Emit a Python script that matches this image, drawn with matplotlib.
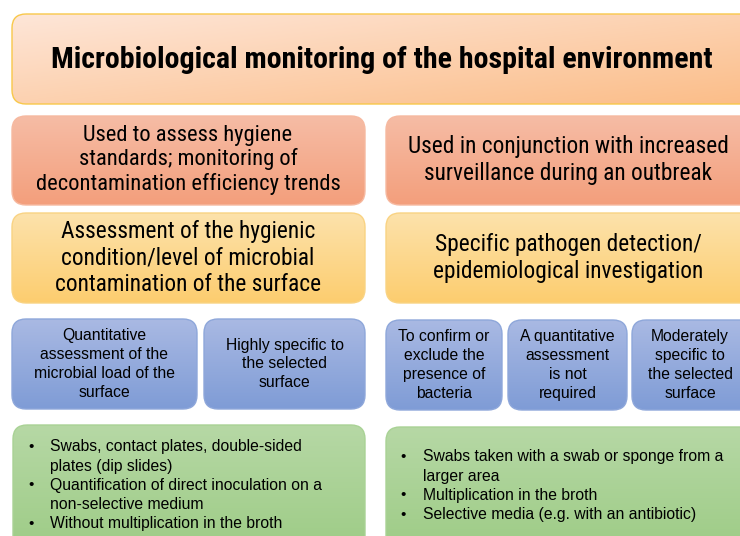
import numpy as np
import matplotlib.pyplot as plt
from matplotlib.patches import FancyBboxPatch
from matplotlib.colors import LinearSegmentedColormap

# texts of the diagram
title = "Microbiological monitoring of the hospital environment"
purpose = ["Used to assess hygiene\nstandards; monitoring of\ndecontamination efficiency trends",
           "Used in conjunction with increased\nsurveillance during an outbreak"]
aim = ["Assessment of the hygienic\ncondition/level of microbial\ncontamination of the surface",
       "Specific pathogen detection/\nepidemiological investigation"]
features_left = ["Quantitative\nassessment of the\nmicrobial load of the\nsurface",
                 "Highly specific to\nthe selected\nsurface"]
features_right = ["To confirm or\nexclude the\npresence of\nbacteria",
                  "A quantitative\nassessment\nis not\nrequired",
                  "Moderately\nspecific to\nthe selected\nsurface"]
methods_left = ["Swabs, contact plates, double-sided\nplates (dip slides)",
                "Quantification of direct inoculation on a\nnon-selective medium",
                "Without multiplication in the broth"]
methods_right = ["Swabs taken with a swab or sponge from a\nlarger area",
                 "Multiplication in the broth",
                 "Selective media (e.g. with an antibiotic)"]

NARROW = ["Roboto Condensed", "Liberation Sans", "DejaVu Sans"]
REG = ["Liberation Sans", "DejaVu Sans"]

fig = plt.figure(figsize=(7.4, 5.36), dpi=100)
ax = fig.add_axes([0, 0, 1, 1])
ax.set_xlim(0, 740)
ax.set_ylim(536, 0)
ax.axis("off")


def box(x0, y0, x1, y1, c_top, c_bot, edge, diag=False, r=14):
    p = FancyBboxPatch((x0 + r, y0 + r), x1 - x0 - 2 * r, y1 - y0 - 2 * r,
                       boxstyle=f"round,pad={r}", fc="none", ec=edge, lw=1.0, zorder=3)
    ax.add_patch(p)
    cmap = LinearSegmentedColormap.from_list("g", [c_top, c_bot])
    yy, xx = np.mgrid[0:1:100j, 0:1:100j]
    g = (yy + xx) / 2 if diag else yy
    im = ax.imshow(g, cmap=cmap, extent=(x0, x1, y1, y0), aspect="auto",
                   interpolation="bilinear", zorder=2)
    im.set_clip_path(p)


# title
box(12, 14, 760, 104, "#fee6d8", "#fbbd88", "#f8c84a", diag=True)
ax.text(382, 60, title, ha="center", va="center", fontsize=21.6, fontweight="bold",
        family=NARROW, zorder=5)

# purpose row
box(12, 116, 365, 205, "#f6bca5", "#f39f7c", "#f6b9a0")
box(386, 116, 760, 205, "#f6bca5", "#f39f7c", "#f6b9a0")
ax.text(188, 160, purpose[0], ha="center", va="center", fontsize=16.2,
        family=NARROW, linespacing=1.17, zorder=5)
ax.text(568, 160, purpose[1], ha="center", va="center", fontsize=16.8,
        family=NARROW, linespacing=1.17, zorder=5)

# aim row
box(12, 213, 365, 303, "#fde2ab", "#fccd6f", "#f9d383")
box(386, 213, 760, 303, "#fde2ab", "#fccd6f", "#f9d383")
ax.text(188, 258, aim[0], ha="center", va="center", fontsize=16.8,
        family=NARROW, linespacing=1.17, zorder=5)
ax.text(568, 258, aim[1], ha="center", va="center", fontsize=16.8,
        family=NARROW, linespacing=1.17, zorder=5)

# features row
blue = ("#a9b9e3", "#7f9cd6", "#8ea7da")
left_pos = [(12, 197), (204, 365)]
right_pos = [(386, 502), (508, 627), (632, 760)]
for (a, b), t in zip(left_pos, features_left):
    box(a, 319, b, 409, *blue)
    ax.text((a + b) / 2, 364, t, ha="center", va="center", fontsize=11.3,
            family=REG, linespacing=1.32, zorder=5)
for (a, b), t in zip(right_pos, features_right):
    box(a, 320, b, 410, *blue)
    cx = (a + b) / 2 if b < 740 else (a + 740) / 2 + 4
    ax.text(cx, 365, t, ha="center", va="center", fontsize=11.3,
            family=REG, linespacing=1.32, zorder=5)

# methods row
green = ("#b6d8a5", "#9ccb84", "#a9d295")
box(13, 425, 365, 560, *green)
box(386, 427, 760, 560, *green)


def bullets(items, xb, xt, y0, step=19.2):
    y = y0
    for it in items:
        ax.text(xb, y, "•", ha="left", va="center", fontsize=11, family=REG, zorder=5)
        for ln in it.split("\n"):
            ax.text(xt, y, ln, ha="left", va="center", fontsize=11.3, family=REG, zorder=5)
            y += step


bullets(methods_left, 28, 50, 447)
bullets(methods_right, 400, 423, 457)

fig.savefig("out.png", dpi=100)
